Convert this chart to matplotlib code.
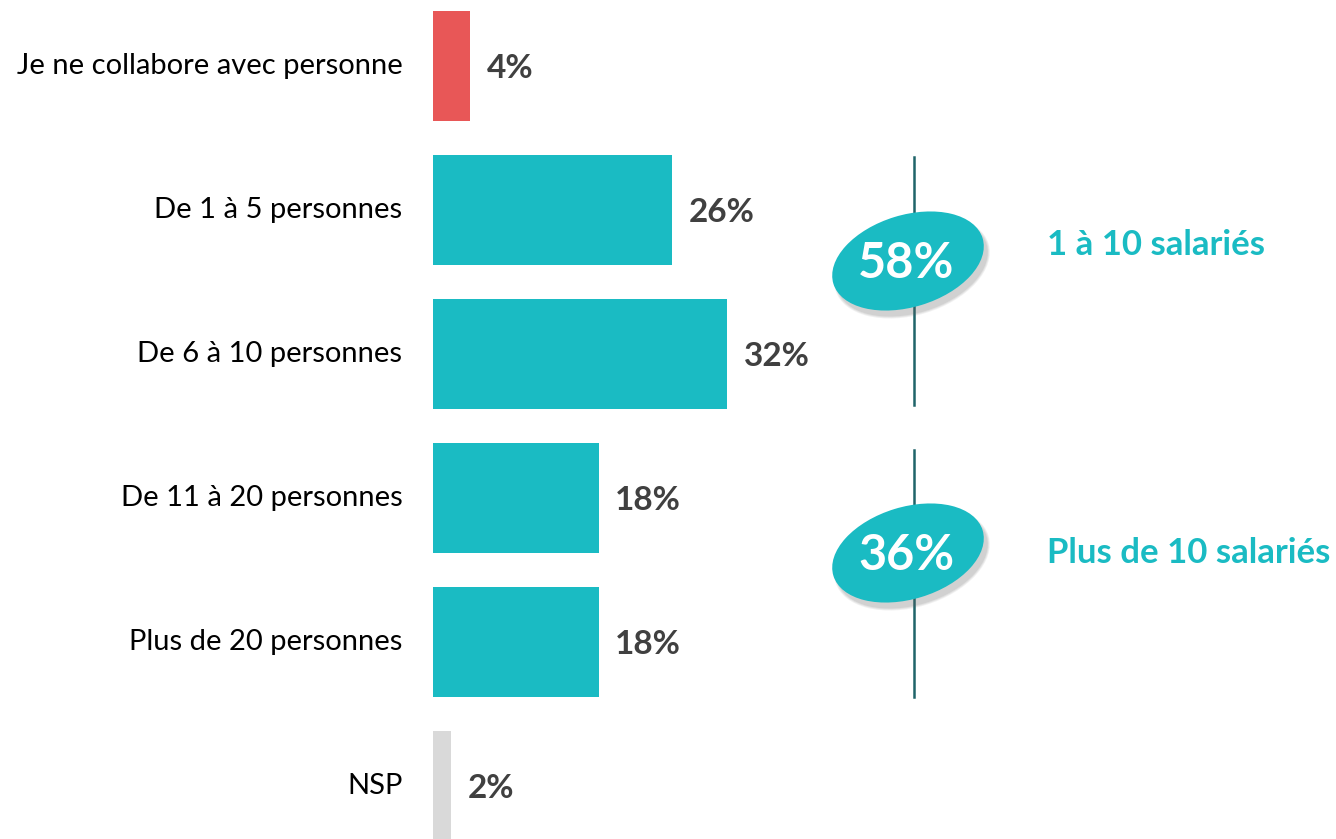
import matplotlib.pyplot as plt
from matplotlib.patches import Ellipse

plt.rcParams['font.family'] = ['Lato', 'DejaVu Sans']

categories = ['Je ne collabore avec personne', 'De 1 à 5 personnes', 'De 6 à 10 personnes',
              'De 11 à 20 personnes', 'Plus de 20 personnes', 'NSP']
values = [4, 26, 32, 18, 18, 2]
bar_colors = ['#E85757', '#1ABBC3', '#1ABBC3', '#1ABBC3', '#1ABBC3', '#D9D9D9']

groups = ['1 à 10 salariés', 'Plus de 10 salariés']
group_values = [58, 36]

TEAL = '#1ABBC3'
DARK = '#404040'

W, H = 1336, 839
fig = plt.figure(figsize=(W / 100, H / 100), dpi=100)

# bar axes: x=0 at pixel 433, ~9.2 px per %, rows 144 px apart
ax = fig.add_axes([0, 0, 1, 1])
px = 9.2
ax.set_xlim(-433 / px, (W - 433) / px)
ax.set_ylim((H - 66) / 144, -66 / 144)
ax.axis('off')

ys = list(range(len(categories)))
ax.barh(ys, values, height=0.77, color=bar_colors)
for y, v, c in zip(ys, values, categories):
    ax.annotate(f'{v}%', (v, y), xytext=(12, -2), textcoords='offset points',
                ha='left', va='center', fontsize=24, fontweight='bold', color=DARK)
    ax.annotate(c, (0, y), xytext=(-22, 0), textcoords='offset points',
                ha='right', va='center', fontsize=21, color='black')

# overlay in pixel coordinates for the group bubbles
ov = fig.add_axes([0, 0, 1, 1])
ov.set_xlim(0, W)
ov.set_ylim(H, 0)
ov.axis('off')

line_spans = [(157, 405), (450, 697)]
centers = [(908, 261), (908, 553)]
label_y = [245, 553]
for (y0, y1), (cx, cy), g, gv, ly in zip(line_spans, centers, groups, group_values, label_y):
    ov.plot([914, 914], [y0, y1], color='#1F6469', lw=1.8, zorder=1)
    # soft shadow
    for i, a in enumerate([0.09, 0.10, 0.12]):
        ov.add_patch(Ellipse((cx + 4, cy + 6), 160 - 2 * i, 96 - 2 * i, angle=-17,
                             color='#606060', alpha=a, lw=0, zorder=2))
    ov.add_patch(Ellipse((cx, cy), 156, 92, angle=-17, color=TEAL, lw=0, zorder=3))
    ov.text(cx - 2, cy + 2, f'{gv}%', ha='center', va='center', fontsize=35,
            fontweight='bold', color='white', zorder=4)
    ov.text(1047, ly, g, ha='left', va='center',
            fontsize=25, fontweight='bold', color=TEAL)

fig.savefig('out.png', dpi=100)
